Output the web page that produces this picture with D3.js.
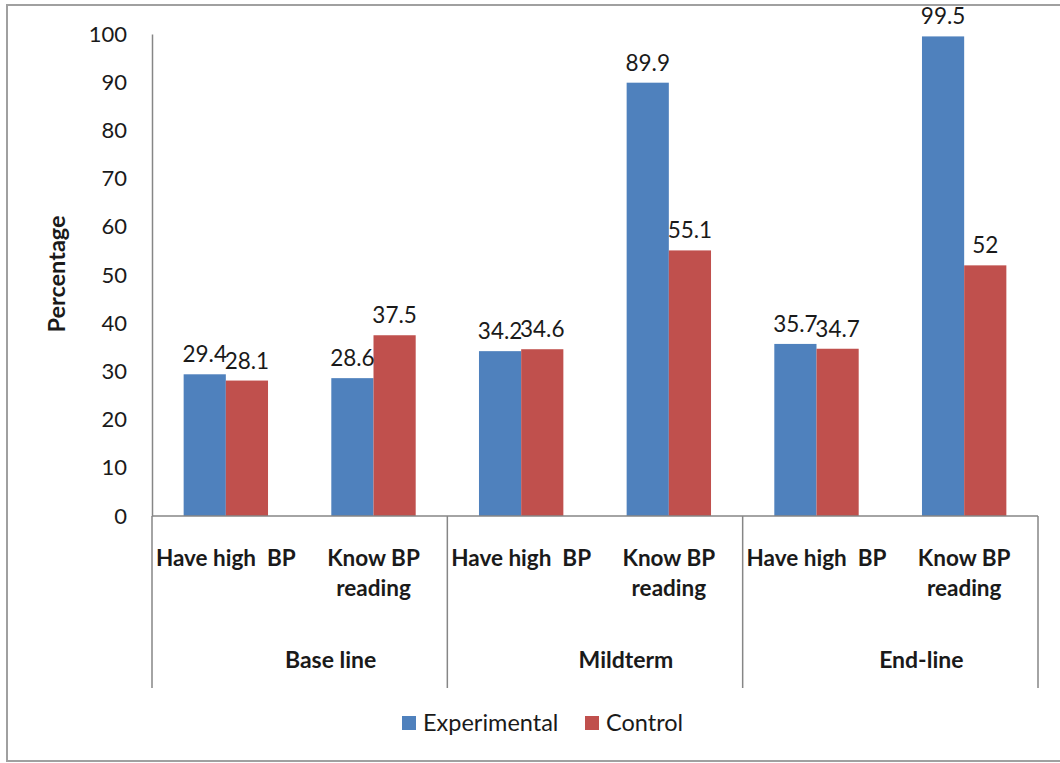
<!DOCTYPE html>
<html>
<head>
<meta charset="utf-8">
<script src="https://cdn.jsdelivr.net/npm/d3@7"></script>
<style>
  body { margin: 0; background: #fff; }
  svg text { font-family: Lato, "Open Sans", sans-serif; fill: #1a1a1a; }
</style>
</head>
<body>
<div id="chart"></div>
<script>
// data ---------------------------------------------------------------------------
const groups = ['Base line', 'Mildterm', 'End-line'];
const items = ['Have high BP', 'Know BP reading'];
const seriesNames = ['Experimental', 'Control'];
const experimental = [29.4, 28.6, 34.2, 89.9, 35.7, 99.5];
const control = [28.1, 37.5, 34.6, 55.1, 34.7, 52];
const yTicks = [0, 10, 20, 30, 40, 50, 60, 70, 80, 90, 100];
const colors = ['#4F81BD', '#C0504D'];

// svg ----------------------------------------------------------------------------
const width = 1060, height = 763;
const margin = { top: 34, bottom: 247, left: 152, right: 22 };
const svg = d3.select('#chart').append('svg')
  .attr('width', width)
  .attr('height', height);

// outer frame
svg.append('rect')
  .attr('x', 7).attr('y', 5)
  .attr('width', width + 10).attr('height', 756)
  .attr('fill', 'none')
  .attr('stroke', '#a0a0a0')
  .attr('stroke-width', 2);

// categories: group x item
const cats = [];
groups.forEach((g, gi) => items.forEach((it, ii) => cats.push({ key: gi + '-' + ii, group: g, item: it })));

const x = d3.scaleBand()
  .domain(cats.map(d => d.key))
  .range([margin.left, width - margin.right])
  .padding(0);
const xInner = d3.scaleBand()
  .domain(seriesNames)
  .range([0, x.bandwidth()])
  .paddingInner(0)
  .paddingOuter(0.75);
const y = d3.scaleLinear()
  .domain([0, 100])
  .range([height - margin.bottom, margin.top]);

const axisColor = '#868686';
const y0 = y(0);

// y axis -------------------------------------------------------------------------
const yAxis = svg.append('g')
  .attr('transform', 'translate(' + margin.left + ',0)')
  .call(d3.axisLeft(y).tickValues(yTicks).tickSize(0).tickPadding(25));
yAxis.select('.domain').attr('stroke', axisColor).attr('stroke-width', 1.5);
yAxis.selectAll('text')
  .attr('font-size', '22px')
  .attr('font-family', 'Lato, "Open Sans", sans-serif')
  .attr('fill', '#1a1a1a');

svg.append('text')
  .attr('transform', 'translate(65,' + 274 + ') rotate(-90)')
  .attr('text-anchor', 'middle')
  .attr('font-size', '23.5px')
  .attr('font-weight', 'bold')
  .text('Percentage');

// bars ---------------------------------------------------------------------------
const rows = cats.map((c, i) => ({ key: c.key, values: [experimental[i], control[i]] }));
const catG = svg.selectAll('.cat')
  .data(rows)
  .enter()
  .append('g')
  .attr('class', 'cat')
  .attr('transform', d => 'translate(' + x(d.key) + ',0)');

catG.selectAll('rect')
  .data(d => d.values.map((v, si) => ({ v: v, s: seriesNames[si], si: si })))
  .enter()
  .append('rect')
  .attr('x', d => xInner(d.s))
  .attr('width', xInner.bandwidth())
  .attr('y', d => y(d.v))
  .attr('height', d => y0 - y(d.v))
  .attr('fill', d => colors[d.si]);

catG.selectAll('.val')
  .data(d => d.values.map((v, si) => ({ v: v, s: seriesNames[si] })))
  .enter()
  .append('text')
  .attr('class', 'val')
  .attr('x', d => xInner(d.s) + xInner.bandwidth() / 2)
  .attr('y', d => y(d.v) - 12)
  .attr('text-anchor', 'middle')
  .attr('font-size', '22.5px')
  .text(d => d.v);

// x axis lines -------------------------------------------------------------------
const bottomY = 688;
svg.append('line')
  .attr('x1', margin.left).attr('x2', width - margin.right)
  .attr('y1', y0).attr('y2', y0)
  .attr('stroke', axisColor).attr('stroke-width', 1.5);
const dividers = [0, 2, 4].map(i => x(cats[i].key)).concat([width - margin.right]);
svg.selectAll('.divider')
  .data(dividers)
  .enter()
  .append('line')
  .attr('x1', d => d).attr('x2', d => d)
  .attr('y1', y0).attr('y2', bottomY)
  .attr('stroke', axisColor).attr('stroke-width', 1.5);

// item labels
const itemLines = { 'Have high BP': ['Have high  BP'], 'Know BP reading': ['Know BP', 'reading'] };
svg.selectAll('.item')
  .data(cats)
  .enter()
  .append('text')
  .attr('class', 'item')
  .attr('text-anchor', 'middle')
  .attr('font-size', '22.5px')
  .attr('font-weight', 'bold')
  .attr('xml:space', 'preserve')
  .style('white-space', 'pre')
  .each(function (d) {
    const t = d3.select(this);
    itemLines[d.item].forEach((ln, li) => {
      t.append('tspan')
        .attr('x', x(d.key) + x.bandwidth() / 2)
        .attr('y', 566 + li * 30)
        .text(ln);
    });
  });

// group labels
svg.selectAll('.grp')
  .data(groups)
  .enter()
  .append('text')
  .attr('class', 'grp')
  .attr('text-anchor', 'middle')
  .attr('font-size', '23px')
  .attr('font-weight', 'bold')
  .attr('x', (d, i) => x(cats[i * 2].key) + x.bandwidth() + 31)
  .attr('y', 668)
  .text(d => d);

// legend -------------------------------------------------------------------------
const legendX = [402, 585];
const legend = svg.selectAll('.legend')
  .data(seriesNames)
  .enter()
  .append('g')
  .attr('class', 'legend')
  .attr('transform', (d, i) => 'translate(' + legendX[i] + ',716)');
legend.append('rect')
  .attr('width', 14).attr('height', 14)
  .attr('fill', (d, i) => colors[i]);
legend.append('text')
  .attr('x', 21).attr('y', 15)
  .attr('font-size', '23.5px')
  .text(d => d);
</script>
</body>
</html>
